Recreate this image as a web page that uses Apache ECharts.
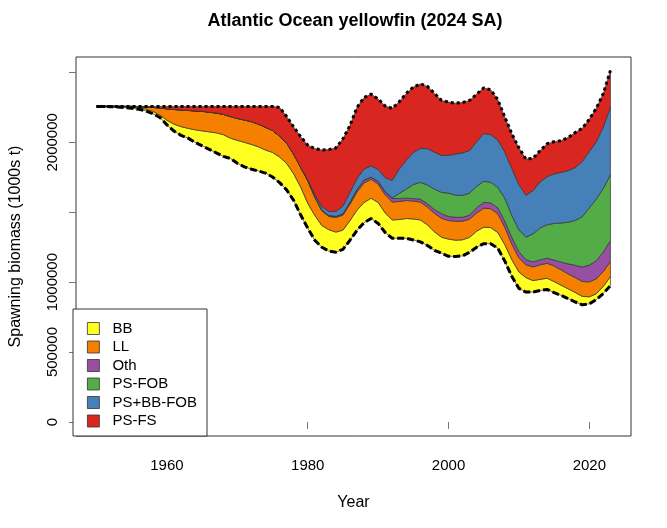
<!DOCTYPE html>
<html>
<head>
<meta charset="utf-8">
<script src="https://cdn.jsdelivr.net/npm/echarts@6/dist/echarts.min.js"></script>
<style>
  html, body { margin: 0; padding: 0; background: #fff; }
  #main { width: 667px; height: 528px; }
</style>
</head>
<body>
<div id="main"></div>
<script>
// values, in thousands of the axis unit
const years = [1950, 1951, 1952, 1953, 1954, 1955, 1956, 1957, 1958, 1959,
  1960, 1961, 1962, 1963, 1964, 1965, 1966, 1967, 1968, 1969,
  1970, 1971, 1972, 1973, 1974, 1975, 1976, 1977, 1978, 1979,
  1980, 1981, 1982, 1983, 1984, 1985, 1986, 1987, 1988, 1989,
  1990, 1991, 1992, 1993, 1994, 1995, 1996, 1997, 1998, 1999,
  2000, 2001, 2002, 2003, 2004, 2005, 2006, 2007, 2008, 2009,
  2010, 2011, 2012, 2013, 2014, 2015, 2016, 2017, 2018, 2019,
  2020, 2021, 2022, 2023]

// spawning biomass with fishing (bottom dashed line)
const biomass = [2257, 2257, 2255, 2252, 2248, 2244, 2236, 2225, 2205, 2178,
  2125, 2080, 2050, 2030, 2000, 1975, 1950, 1925, 1900, 1885,
  1850, 1825, 1808, 1795, 1780, 1752, 1712, 1660, 1585, 1480,
  1386, 1300, 1250, 1222, 1214, 1235, 1300, 1371, 1425, 1455,
  1420, 1355, 1314, 1314, 1314, 1302, 1288, 1262, 1228, 1207,
  1185, 1184, 1188, 1214, 1250, 1275, 1275, 1243, 1150, 1040,
  955, 929, 929, 940, 948, 925, 905, 882, 858, 838,
  845, 875, 920, 975]

// impact of each fleet group (stacked on top of biomass)
const bb = [0, 0, 1, 2, 4, 6, 10, 13, 17, 17,
  33, 50, 62, 70, 90, 107, 125, 143, 155, 145,
  164, 175, 177, 173, 165, 176, 183, 190, 190, 200,
  179, 178, 155, 153, 144, 137, 140, 144, 145, 145,
  150, 140, 131, 134, 141, 150, 157, 148, 132, 114,
  123, 116, 115, 107, 115, 118, 115, 112, 118, 120,
  118, 103, 82, 80, 80, 79, 73, 70, 68, 60,
  50, 42, 50, 65]

const ll = [0, 0, 1, 3, 5, 7, 10, 14, 28, 50,
  82, 105, 120, 128, 135, 140, 141, 142, 145, 155,
  157, 160, 163, 162, 163, 157, 150, 145, 140, 140,
  160, 130, 105, 95, 105, 107, 118, 130, 140, 135,
  132, 130, 128, 129, 129, 128, 128, 128, 132, 136,
  133, 136, 133, 130, 130, 136, 135, 134, 124, 112,
  100, 92, 98, 104, 107, 112, 110, 107, 107, 107,
  107, 107, 107, 107]

const oth = [0, 0, 0, 0, 0, 0, 0, 0, 0, 0,
  0, 0, 0, 0, 0, 0, 0, 0, 0, 0,
  0, 0, 0, 0, 0, 0, 0, 0, 0, 0,
  2, 4, 5, 6, 8, 10, 14, 18, 20, 16,
  20, 22, 25, 22, 17, 18, 21, 22, 28, 33,
  28, 28, 28, 29, 38, 42, 42, 43, 43, 47,
  45, 36, 36, 35, 36, 42, 55, 72, 88, 103,
  120, 130, 140, 150]

const psFob = [0, 0, 0, 0, 0, 0, 0, 0, 0, 0,
  0, 0, 0, 0, 0, 0, 0, 0, 0, 0,
  0, 0, 0, 0, 0, 0, 0, 0, 0, 0,
  0, 0, 0, 0, 0, 0, 0, 0, 0, 0,
  0, 0, 5, 35, 65, 100, 120, 135, 145, 152,
  168, 158, 156, 157, 152, 150, 148, 145, 165, 158,
  155, 162, 200, 228, 240, 262, 280, 298, 320, 360,
  410, 440, 455, 470]

const psBbFob = [0, 0, 0, 0, 0, 0, 0, 0, 0, 0,
  0, 0, 0, 0, 0, 0, 0, 0, 0, 0,
  0, 0, 0, 0, 0, 0, 0, 0, 0, 0,
  5, 15, 25, 30, 35, 55, 70, 78, 80, 80,
  85, 100, 125, 175, 205, 230, 243, 260, 265, 264,
  270, 295, 305, 305, 320, 342, 340, 340, 330, 335,
  325, 300, 310, 330, 343, 355, 362, 370, 378, 395,
  402, 410, 440, 485]

const psFs = [0, 0, 0, 0, 0, 0, 1, 5, 7, 12,
  17, 22, 25, 29, 32, 35, 41, 47, 57, 72,
  86, 97, 109, 127, 149, 172, 205, 190, 195, 220,
  248, 328, 405, 442, 454, 481, 478, 509, 510, 514,
  503, 513, 515, 481, 479, 467, 461, 445, 420, 394,
  381, 363, 360, 358, 340, 327, 320, 288, 250, 248,
  262, 258, 230, 223, 236, 230, 227, 236, 251, 237,
  231, 241, 238, 262]

const fleetNames = ['BB', 'LL', 'Oth', 'PS-FOB', 'PS+BB-FOB', 'PS-FS']
const fleetColors = ['#FFFF22', '#F58000', '#984EA3', '#53AC47', '#4580B9', '#DA2620']
const yTicks = [0, 500000, 1000000, 1500000, 2000000, 2500000]
const yLabels = [0, 500000, 1000000, 2000000]
const xTicks = [1960, 1980, 2000, 2020]

const UNIT = 1000
const fleets = [bb, ll, oth, psFob, psBbFob, psFs]
const pairs = arr => arr.map((v, i) => [years[i], v * UNIT])

// lower and upper edge of every fleet band
const bands = []
let lower = biomass.slice()
fleets.forEach(arr => {
  const upper = lower.map((v, i) => v + arr[i])
  bands.push(years.map((y, i) => [y, lower[i] * UNIT, upper[i] * UNIT]))
  lower = upper
})
const unfished = lower

const myChart = echarts.init(document.getElementById('main'))

// one polygon per band: along the upper edge, back along the lower edge
function renderBand(params, api) {
  if (params.dataIndexInside !== 0) return null
  const n = params.dataInsideLength
  const pts = []
  for (let i = 0; i < n; i++) pts.push(api.coord([api.value(0, i), api.value(2, i)]))
  for (let i = n - 1; i >= 0; i--) pts.push(api.coord([api.value(0, i), api.value(1, i)]))
  return {
    type: 'polygon',
    shape: { points: pts },
    style: { fill: api.visual('color'), stroke: '#333', lineWidth: 0.7 }
  }
}

const series = fleets.map((arr, k) => ({
  name: fleetNames[k],
  type: 'custom',
  renderItem: renderBand,
  data: bands[k],
  encode: { x: 0, y: [1, 2] },
  itemStyle: { color: fleetColors[k] },
  clip: true
}))

series.push({
  name: 'unfished',
  type: 'line',
  data: pairs(unfished),
  symbol: 'none',
  z: 5,
  lineStyle: { color: '#000', width: 3, type: [3, 3] }
})
series.push({
  name: 'fished',
  type: 'line',
  data: pairs(biomass),
  symbol: 'none',
  z: 5,
  lineStyle: { color: '#000', width: 3, type: [7, 3] }
})

const font = 'Liberation Sans, Arial, sans-serif'

myChart.setOption({
  animation: false,
  title: {
    text: 'Atlantic Ocean yellowfin (2024 SA)',
    left: 350,
    textAlign: 'center',
    top: 7,
    textStyle: { fontFamily: font, fontSize: 18, fontWeight: 'bold', color: '#000' }
  },
  grid: {
    left: 73, right: 36, top: 57, bottom: 92,
    show: true, borderColor: '#333', borderWidth: 1
  },
  legend: {
    data: fleetNames,
    orient: 'vertical',
    left: 82,
    top: 316,
    itemWidth: 12,
    itemHeight: 12,
    itemGap: 3.5,
    icon: 'rect',
    itemStyle: { borderColor: '#333', borderWidth: 0.8 },
    textStyle: { fontFamily: font, fontSize: 15, color: '#000', padding: [0, 0, 0, 8] },
    z: 10
  },
  graphic: [{
    type: 'rect',
    shape: { x: 73, y: 309, width: 134, height: 127 },
    style: { fill: '#fff', stroke: '#333', lineWidth: 1 },
    z: 5
  }],
  xAxis: {
    type: 'value',
    min: 1947.08,
    max: 2025.92,
    name: 'Year',
    nameLocation: 'middle',
    nameGap: 59,
    nameTextStyle: { fontFamily: font, fontSize: 16, color: '#000' },
    axisLine: { show: false },
    splitLine: { show: false },
    axisTick: { show: true, length: 7, lineStyle: { color: '#777' }, customValues: xTicks },
    axisLabel: {
      fontFamily: font, fontSize: 15, color: '#000', margin: 22,
      customValues: xTicks, formatter: v => String(v)
    }
  },
  yAxis: {
    type: 'value',
    min: -100400,
    max: 2610400,
    name: 'Spawning biomass (1000s t)',
    nameLocation: 'middle',
    nameGap: 52,
    nameTextStyle: { fontFamily: font, fontSize: 16, color: '#000' },
    axisLine: { show: false },
    splitLine: { show: false },
    axisTick: { show: true, length: 7, lineStyle: { color: '#777' }, customValues: yTicks },
    axisLabel: {
      fontFamily: font, fontSize: 15, color: '#000', rotate: 90, margin: 16,
      customValues: yLabels, formatter: v => String(v)
    }
  },
  series: series
})
</script>
</body>
</html>
